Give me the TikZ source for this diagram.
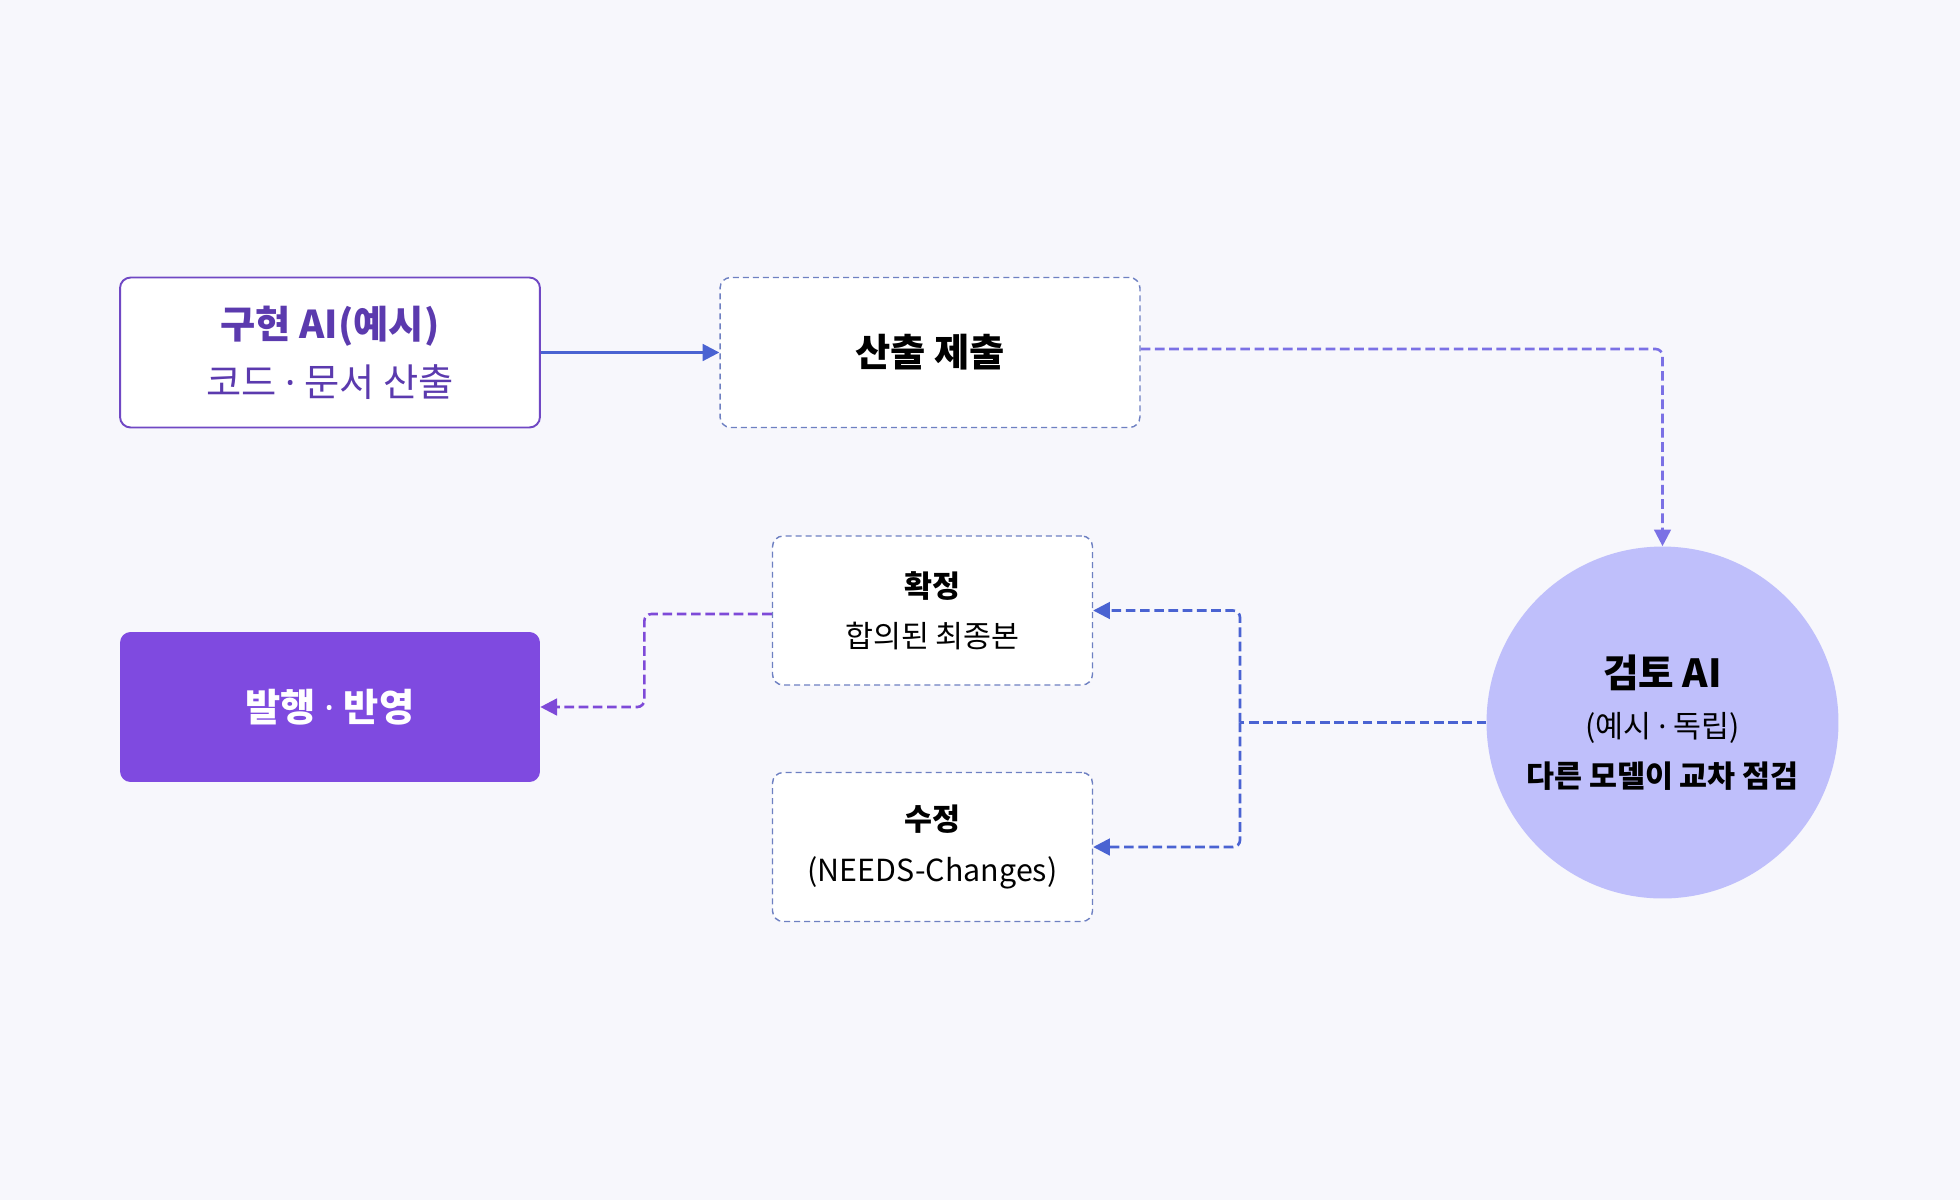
\documentclass[tikz,border=0pt]{standalone}
\usepackage{fontspec}
\setmainfont{Noto Sans CJK KR}
\newfontfamily\latinfont{Noto Sans}
\usetikzlibrary{arrows.meta,positioning}
\usepackage{xcolor}
\definecolor{bgcol}{HTML}{F7F7FC}
\definecolor{implline}{HTML}{7048C4}
\definecolor{impltext}{HTML}{5B3AAE}
\definecolor{boxline}{HTML}{6E80C2}
\definecolor{pubfill}{HTML}{7F4AE0}
\definecolor{revfill}{HTML}{BFBFFB}
\definecolor{flowblue}{HTML}{4A63D2}
\definecolor{flowpurple}{HTML}{7E4AD8}
\definecolor{flowlilac}{HTML}{A47CF4}
\newcommand{\mdot}{{\latinfont ·}}

\begin{document}
\begin{tikzpicture}[x=0.02cm, y=-0.02cm,
  wide/.style={rounded corners=6pt, minimum width=8.4cm, minimum height=3cm, align=center},
  stage/.style={draw=boxline, line width=0.8pt, dash pattern=on 3.4pt off 2.3pt, fill=white,
    rounded corners=6pt, align=center},
  reviewer/.style={circle, fill=revfill, minimum size=7.04cm, inner sep=0pt, align=center},
  flow/.style={line width=1.5pt, dash pattern=on 5.5pt off 2.6pt, rounded corners=4pt,
    -{Triangle[length=9.5pt,width=9.5pt]}},
  big/.style={font=\fontsize{21.8}{33}\selectfont},
  small/.style={font=\fontsize{17.3}{28.5}\selectfont}
]
\fill[bgcol] (0,0) rectangle (1960,1200);
\useasboundingbox (0,0) rectangle (1960,1200);

\node[wide, big, draw=implline, line width=1.1pt, fill=white, text=impltext] (impl) at (330,352.5)
  {\textbf{구현 AI(예시)}\\코드 \mdot{} 문서 산출};
\node[stage, wide, big] (submit) at (930,352.5) {\textbf{산출 제출}};
\node[reviewer, small] (rev) at (1662.5,722.5)
  {{\fontsize{22}{28}\selectfont\textbf{검토 AI}}\\(예시 \mdot{} 독립)\\\textbf{다른 모델이 교차 점검}};
\node[stage, small, minimum width=6.4cm, minimum height=2.98cm] (ok) at (932.5,610.5)
  {\textbf{확정}\\합의된 최종본};
\node[stage, small, minimum width=6.4cm, minimum height=2.98cm] (fix) at (932.5,847)
  {\textbf{수정}\\(NEEDS-Changes)};
\node[wide, big, fill=pubfill, text=white] (pub) at (330,707) {\textbf{발행 \mdot{} 반영}};

\coordinate (fork) at (1240,722.5);

\draw[line width=1.5pt, flowblue, -{Triangle[length=9.5pt,width=9.5pt]}] (impl) -- (submit);
\draw[flow, flowblue!45!flowlilac] ([yshift=2pt]submit.east) -| (rev.north);
\draw[flow, flowblue, -] (rev.west) -- (fork);
\draw[flow, flowblue] (fork) |- (ok.east);
\draw[flow, flowblue] (fork) |- (fix.east);
\draw[flow, flowpurple] ([yshift=-2pt]ok.west) -- ++(-127.5,0) |- (pub.east);

\end{tikzpicture}
\end{document}
